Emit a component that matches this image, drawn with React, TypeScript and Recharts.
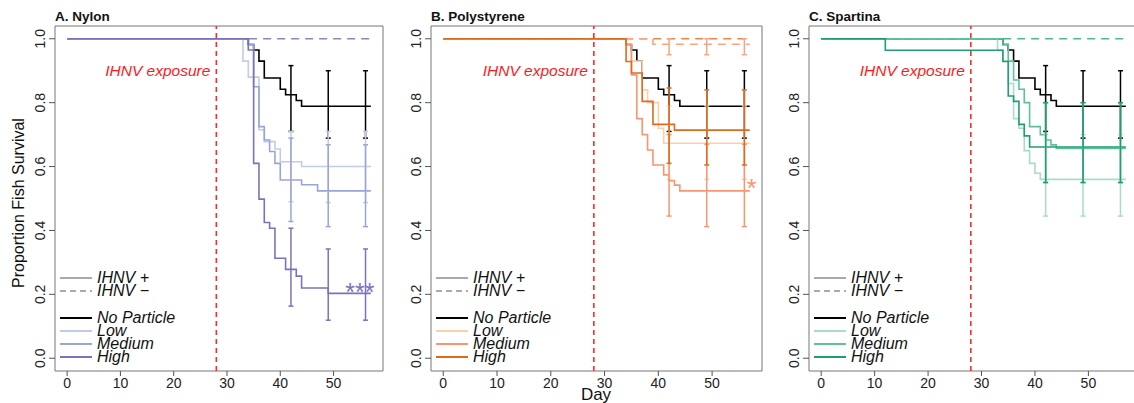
import React from 'react';
import {
  ComposedChart,
  Line,
  ErrorBar,
  XAxis,
  YAxis,
  ReferenceLine,
  ReferenceArea,
  ReferenceDot,
} from 'recharts';

type Pt = [number, number];

// Kaplan-Meier steps: [day, proportion surviving]
const ciDays = [42, 49, 56];
const xTicks = [0, 10, 20, 30, 40, 50];
const yTicks = [0, 0.2, 0.4, 0.6, 0.8, 1.0];

// No Particle control, same in every panel
const noParticle: Pt[] = [[0, 1], [34, 0.982], [35, 0.965], [36, 0.93], [37, 0.877], [40, 0.842], [41, 0.825], [43, 0.807], [44, 0.789], [57, 0.789]];
const noParticleCI = [[0.71, 0.916], [0.689, 0.9], [0.689, 0.9]];
const ihnvNeg: Pt[] = [[0, 1], [57, 1]];

// A. Nylon
const nylonLow: Pt[] = [[0, 1], [33, 0.93], [34, 0.88], [36, 0.715], [37, 0.678], [39, 0.655], [40, 0.615], [44, 0.6], [57, 0.6]];
const nylonLowCI = [[0.49, 0.71], [0.487, 0.71], [0.487, 0.71]];
const nylonMed: Pt[] = [[0, 1], [34, 0.982], [35, 0.85], [36, 0.725], [37, 0.683], [38, 0.647], [39, 0.61], [40, 0.558], [44, 0.543], [47, 0.524], [57, 0.524]];
const nylonMedCI = [[0.428, 0.689], [0.412, 0.668], [0.412, 0.668]];
const nylonHigh: Pt[] = [[0, 1], [34, 0.965], [35, 0.61], [36, 0.498], [37, 0.425], [38, 0.407], [39, 0.313], [41, 0.278], [43, 0.257], [44, 0.22], [49, 0.203], [57, 0.203]];
const nylonHighCI = [[0.163, 0.407], [0.119, 0.342], [0.119, 0.342]];

// B. Polystyrene
const psLow: Pt[] = [[0, 1], [34, 0.982], [35, 0.93], [37, 0.84], [38, 0.8], [40, 0.72], [41, 0.673], [57, 0.673]];
const psLowCI = [[0.56, 0.79], [0.56, 0.79], [0.56, 0.79]];
const psMed: Pt[] = [[0, 1], [34, 0.982], [35, 0.887], [36, 0.75], [37, 0.7], [38, 0.652], [39, 0.605], [41, 0.574], [42, 0.556], [43, 0.542], [44, 0.524], [57, 0.524]];
const psMedCI = [[0.445, 0.7], [0.412, 0.67], [0.412, 0.67]];
const psHigh: Pt[] = [[0, 1], [34, 0.929], [35, 0.893], [37, 0.804], [39, 0.732], [43, 0.714], [57, 0.714]];
const psHighCI = [[0.61, 0.846], [0.605, 0.84], [0.605, 0.84]];
const psMedNeg: Pt[] = [[0, 1], [39, 0.983], [57, 0.983]];
const psMedNegCI = [[0.95, 1], [0.95, 1], [0.95, 1]];

// C. Spartina
const spLow: Pt[] = [[0, 1], [33, 0.965], [34, 0.93], [35, 0.86], [36, 0.75], [37, 0.72], [38, 0.65], [39, 0.61], [40, 0.579], [41, 0.56], [57, 0.56]];
const spLowCI = [[0.445, 0.7], [0.445, 0.7], [0.445, 0.7]];
const spMed: Pt[] = [[0, 1], [34, 0.982], [35, 0.93], [36, 0.871], [37, 0.842], [38, 0.8], [39, 0.725], [41, 0.7], [42, 0.683], [43, 0.668], [44, 0.657], [57, 0.657]];
const spMedCI = [[0.55, 0.8], [0.55, 0.8], [0.55, 0.8]];
const spHigh: Pt[] = [[0, 1], [12, 0.964], [34, 0.929], [35, 0.821], [36, 0.804], [37, 0.732], [38, 0.696], [39, 0.661], [57, 0.661]];
const spHighCI = [[0.55, 0.8], [0.55, 0.8], [0.55, 0.8]];

const FONT = '"Liberation Sans", Arial, Helvetica, sans-serif';
const X_DOMAIN = [-2.28, 59.28];
const Y_DOMAIN = [-0.04, 1.04];

interface Series {
  data: Pt[];
  ci?: number[][];
  color: string;
  dashed?: boolean;
}

const rows = (pts: Pt[]) => pts.map(([day, s]) => ({ day, s }));

const stepAt = (pts: Pt[], day: number) => {
  let v = pts[0][1];
  for (const [d, s] of pts) if (d <= day) v = s;
  return v;
};

const ciRows = (pts: Pt[], ci: number[][]) =>
  ciDays.map((day, i) => {
    const s = stepAt(pts, day);
    return { day, s, err: [s - ci[i][0], ci[i][1] - s] };
  });

const YTick = (props: any) => {
  const { x, y, payload } = props;
  return (
    <text
      transform={`translate(${x - 2},${y}) rotate(-90)`}
      textAnchor="middle"
      fontSize={14}
      fontFamily={FONT}
      fill="#222"
    >
      {payload.value.toFixed(1)}
    </text>
  );
};

interface Star {
  text: string;
  x: number;
  y: number;
  dx: number;
  dy: number;
  color: string;
}

interface PanelProps {
  left: number;
  yWidth: number;
  plotWidth: number;
  title: string;
  series: Series[];
  legendColors: string[];
  star?: Star;
}

function Panel({ left, yWidth, plotWidth, title, series, legendColors, star }: PanelProps) {
  const boxLeft = left + yWidth;
  const legendRows = [
    { label: 'IHNV +', color: '#aaaaaa', dash: undefined as string | undefined, y: 278 },
    { label: 'IHNV \u2212', color: '#aaaaaa', dash: '6 4', y: 291 },
    { label: 'No Particle', color: '#000000', dash: undefined, y: 317.5 },
    { label: 'Low', color: legendColors[0], dash: undefined, y: 330.5 },
    { label: 'Medium', color: legendColors[1], dash: undefined, y: 343.5 },
    { label: 'High', color: legendColors[2], dash: undefined, y: 356.5 },
  ];
  return (
    <>
      <div style={{ position: 'absolute', left }}>
        <ComposedChart
          width={yWidth + plotWidth + 1}
          height={403}
          margin={{ top: 26, right: 1, left: 0, bottom: 0 }}
        >
          <XAxis
            dataKey="day"
            type="number"
            domain={X_DOMAIN}
            ticks={xTicks}
            allowDataOverflow
            height={32}
            axisLine={false}
            tickSize={5}
            tickMargin={2}
            tickLine={{ stroke: '#555' }}
            tick={{ fontSize: 14, fill: '#222', fontFamily: FONT }}
          />
          <YAxis
            dataKey="s"
            type="number"
            domain={Y_DOMAIN}
            ticks={yTicks}
            allowDataOverflow
            width={yWidth}
            axisLine={false}
            tickSize={6}
            tickMargin={2}
            tickLine={{ stroke: '#555' }}
            tick={<YTick />}
          />
          <ReferenceArea
            x1={X_DOMAIN[0]}
            x2={X_DOMAIN[1]}
            y1={Y_DOMAIN[0]}
            y2={Y_DOMAIN[1]}
            fill="none"
            stroke="#777"
            strokeWidth={1}
            ifOverflow="visible"
          />
          <ReferenceLine
            x={28}
            stroke="#ff2a2a"
            strokeWidth={1.6}
            strokeDasharray="5 4"
            label={(p: any) => (
              <text
                x={p.viewBox.x - 6}
                y={p.viewBox.y + 50}
                textAnchor="end"
                fontSize={15.5}
                fontStyle="italic"
                fontFamily={FONT}
                fill="#ff1a1a"
              >
                IHNV exposure
              </text>
            )}
          />
          {series.map((s, i) => (
            <Line
              key={'l' + i}
              data={rows(s.data)}
              dataKey="s"
              type="stepAfter"
              stroke={s.color}
              strokeWidth={1.6}
              strokeDasharray={s.dashed ? '8 6' : undefined}
              dot={false}
              activeDot={false}
              isAnimationActive={false}
            />
          ))}
          {series
            .filter((s) => s.ci)
            .map((s, i) => (
              <Line
                key={'c' + i}
                data={ciRows(s.data, s.ci as number[][])}
                dataKey="s"
                stroke="none"
                dot={false}
                activeDot={false}
                isAnimationActive={false}
              >
                <ErrorBar
                  dataKey="err"
                  width={2.5}
                  stroke={s.color}
                  strokeWidth={1.5}
                  isAnimationActive={false}
                />
              </Line>
            ))}
          {star && (
            <ReferenceDot
              x={star.x}
              y={star.y}
              r={0}
              ifOverflow="visible"
              label={(p: any) => (
                <text
                  x={p.viewBox.x + star.dx}
                  y={p.viewBox.y + star.dy}
                  textAnchor="middle"
                  fontSize={25}
                  fontFamily={FONT}
                  fill={star.color}
                >
                  {star.text}
                </text>
              )}
            />
          )}
        </ComposedChart>
      </div>
      <div
        style={{
          position: 'absolute',
          left: boxLeft,
          top: 9,
          fontFamily: FONT,
          fontWeight: 'bold',
          fontSize: 13.5,
          color: '#111',
        }}
      >
        {title}
      </div>
      {legendRows.map((r) => (
        <div
          key={r.label}
          style={{
            position: 'absolute',
            left: boxLeft + 5,
            top: r.y - 8,
            height: 16,
            display: 'flex',
            alignItems: 'center',
            whiteSpace: 'nowrap',
          }}
        >
          <svg width={32} height={4} style={{ display: 'block' }}>
            <line x1={0} y1={2} x2={32} y2={2} stroke={r.color} strokeWidth={2} strokeDasharray={r.dash} />
          </svg>
          <span
            style={{
              marginLeft: 5,
              fontFamily: FONT,
              fontStyle: 'italic',
              fontSize: 16,
              color: '#111',
              lineHeight: '16px',
            }}
          >
            {r.label}
          </span>
        </div>
      ))}
    </>
  );
}

export default function App() {
  const nylonColors = ['#c4cbe8', '#98a6d6', '#7b73b9'];
  const psColors = ['#fdd0ac', '#f99570', '#e06a1c'];
  const spColors = ['#a9dcc6', '#5fc09c', '#1f9e76'];
  return (
    <div
      style={{
        position: 'absolute',
        left: 0,
        top: 0,
        width: 1134,
        height: 403,
        overflow: 'hidden',
        background: '#fff',
      }}
    >
      <Panel
        left={0}
        yWidth={55}
        plotWidth={328}
        title="A. Nylon"
        legendColors={nylonColors}
        series={[
          { data: ihnvNeg, color: '#8a86c6', dashed: true },
          { data: noParticle, ci: noParticleCI, color: '#000000' },
          { data: nylonLow, ci: nylonLowCI, color: nylonColors[0] },
          { data: nylonMed, ci: nylonMedCI, color: nylonColors[1] },
          { data: nylonHigh, ci: nylonHighCI, color: nylonColors[2] },
        ]}
        star={{ text: '***', x: 57, y: 0.203, dx: -11, dy: 8, color: '#7b73b9' }}
      />
      <Panel
        left={384}
        yWidth={47}
        plotWidth={331}
        title="B. Polystyrene"
        legendColors={psColors}
        series={[
          { data: ihnvNeg, color: '#ec8444', dashed: true },
          { data: psMedNeg, ci: psMedNegCI, color: '#f8a585', dashed: true },
          { data: noParticle, ci: noParticleCI, color: '#000000' },
          { data: psLow, ci: psLowCI, color: psColors[0] },
          { data: psMed, ci: psMedCI, color: psColors[1] },
          { data: psHigh, ci: psHighCI, color: psColors[2] },
        ]}
        star={{ text: '*', x: 57, y: 0.524, dx: 2, dy: 6, color: '#f99570' }}
      />
      <Panel
        left={763}
        yWidth={46}
        plotWidth={329}
        title="C. Spartina"
        legendColors={spColors}
        series={[
          { data: ihnvNeg, color: '#4cb88f', dashed: true },
          { data: noParticle, ci: noParticleCI, color: '#000000' },
          { data: spLow, ci: spLowCI, color: spColors[0] },
          { data: spMed, ci: spMedCI, color: spColors[1] },
          { data: spHigh, ci: spHighCI, color: spColors[2] },
        ]}
      />
      <div
        style={{
          position: 'absolute',
          left: 19,
          top: 203,
          transform: 'translate(-50%, -50%) rotate(-90deg)',
          fontFamily: FONT,
          fontSize: 16,
          color: '#111',
          whiteSpace: 'nowrap',
        }}
      >
        Proportion Fish Survival
      </div>
      <div
        style={{
          position: 'absolute',
          left: 596,
          top: 395,
          transform: 'translate(-50%, -50%)',
          fontFamily: FONT,
          fontSize: 17,
          color: '#111',
        }}
      >
        Day
      </div>
    </div>
  );
}
